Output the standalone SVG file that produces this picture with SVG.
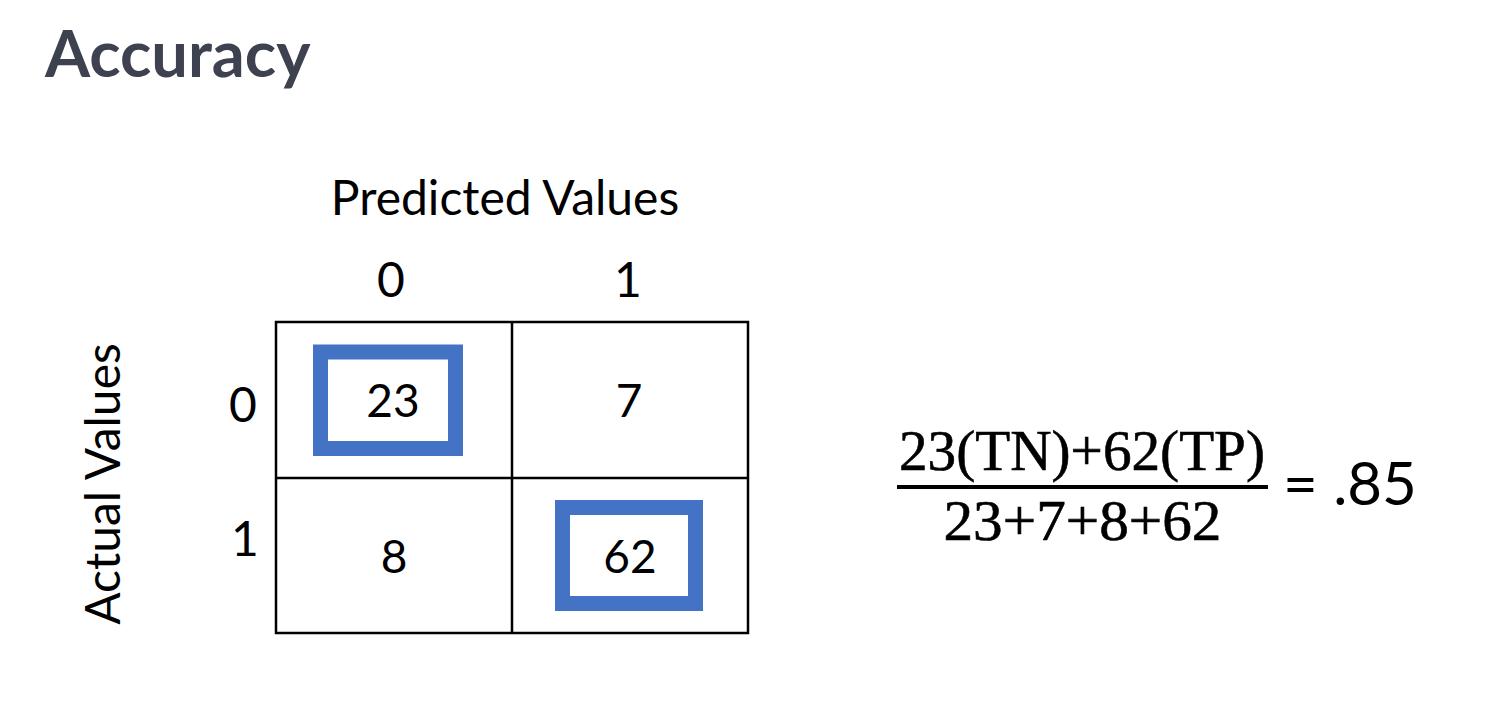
<svg xmlns="http://www.w3.org/2000/svg" width="1492" height="720" viewBox="0 0 1492 720">
<style>
.title{font-family:Lato,"Liberation Sans",sans-serif;font-weight:700;font-size:65px;fill:#3d4150}
.lbl{font-family:Lato,"Open Sans",sans-serif;font-size:48px;fill:#000;text-anchor:middle}
.num{font-family:Lato,"Open Sans",sans-serif;font-size:46px;fill:#000;text-anchor:middle}
.math{font-family:"Liberation Serif","DejaVu Serif",serif;font-size:57px;fill:#000;stroke:#000;stroke-width:0.6;text-anchor:middle}
.grid{fill:none;stroke:#000;stroke-width:2.5}
.hl{fill:#fff;stroke:#4472c4;stroke-width:15}
</style>
<rect width="1492" height="720" fill="#fff"/>
<text class="title" x="45" y="77">Accuracy</text>
<g id="axis-labels">
<text class="lbl" x="505" y="215">Predicted Values</text>
<text class="lbl" transform="translate(120,484) rotate(-90)" x="0" y="0">Actual Values</text>
<text class="lbl" x="391" y="297">0</text>
<text class="lbl" x="628" y="297">1</text>
<text class="lbl" x="243" y="422">0</text>
<text class="lbl" x="245" y="556">1</text>
</g>
<g id="matrix">
<rect class="grid" x="276" y="322" width="472" height="311"/>
<line class="grid" x1="512" y1="322" x2="512" y2="633"/>
<line class="grid" x1="276" y1="478" x2="748" y2="478"/>
</g>
<g id="cell-tn">
<rect class="hl" x="320.5" y="352" width="135" height="96.5"/>
<text class="num" x="393" y="417">23</text>
</g>
<g id="cell-fp"><text class="num" x="629" y="417">7</text></g>
<g id="cell-fn"><text class="num" x="394" y="573">8</text></g>
<g id="cell-tp">
<rect class="hl" x="562.5" y="507.5" width="133" height="96"/>
<text class="num" x="630" y="573">62</text>
</g>
<g id="formula">
<text class="math" x="1082" y="470" textLength="366" lengthAdjust="spacingAndGlyphs">23(TN)+62(TP)</text>
<line x1="897" y1="487" x2="1268" y2="487" stroke="#000" stroke-width="4"/>
<text class="math" x="1082.5" y="540" textLength="278" lengthAdjust="spacingAndGlyphs">23+7+8+62</text>
<text x="1283" y="505" style="font-family:Lato,'Open Sans',sans-serif;font-size:60px;fill:#000">= .85</text>
</g>
</svg>
